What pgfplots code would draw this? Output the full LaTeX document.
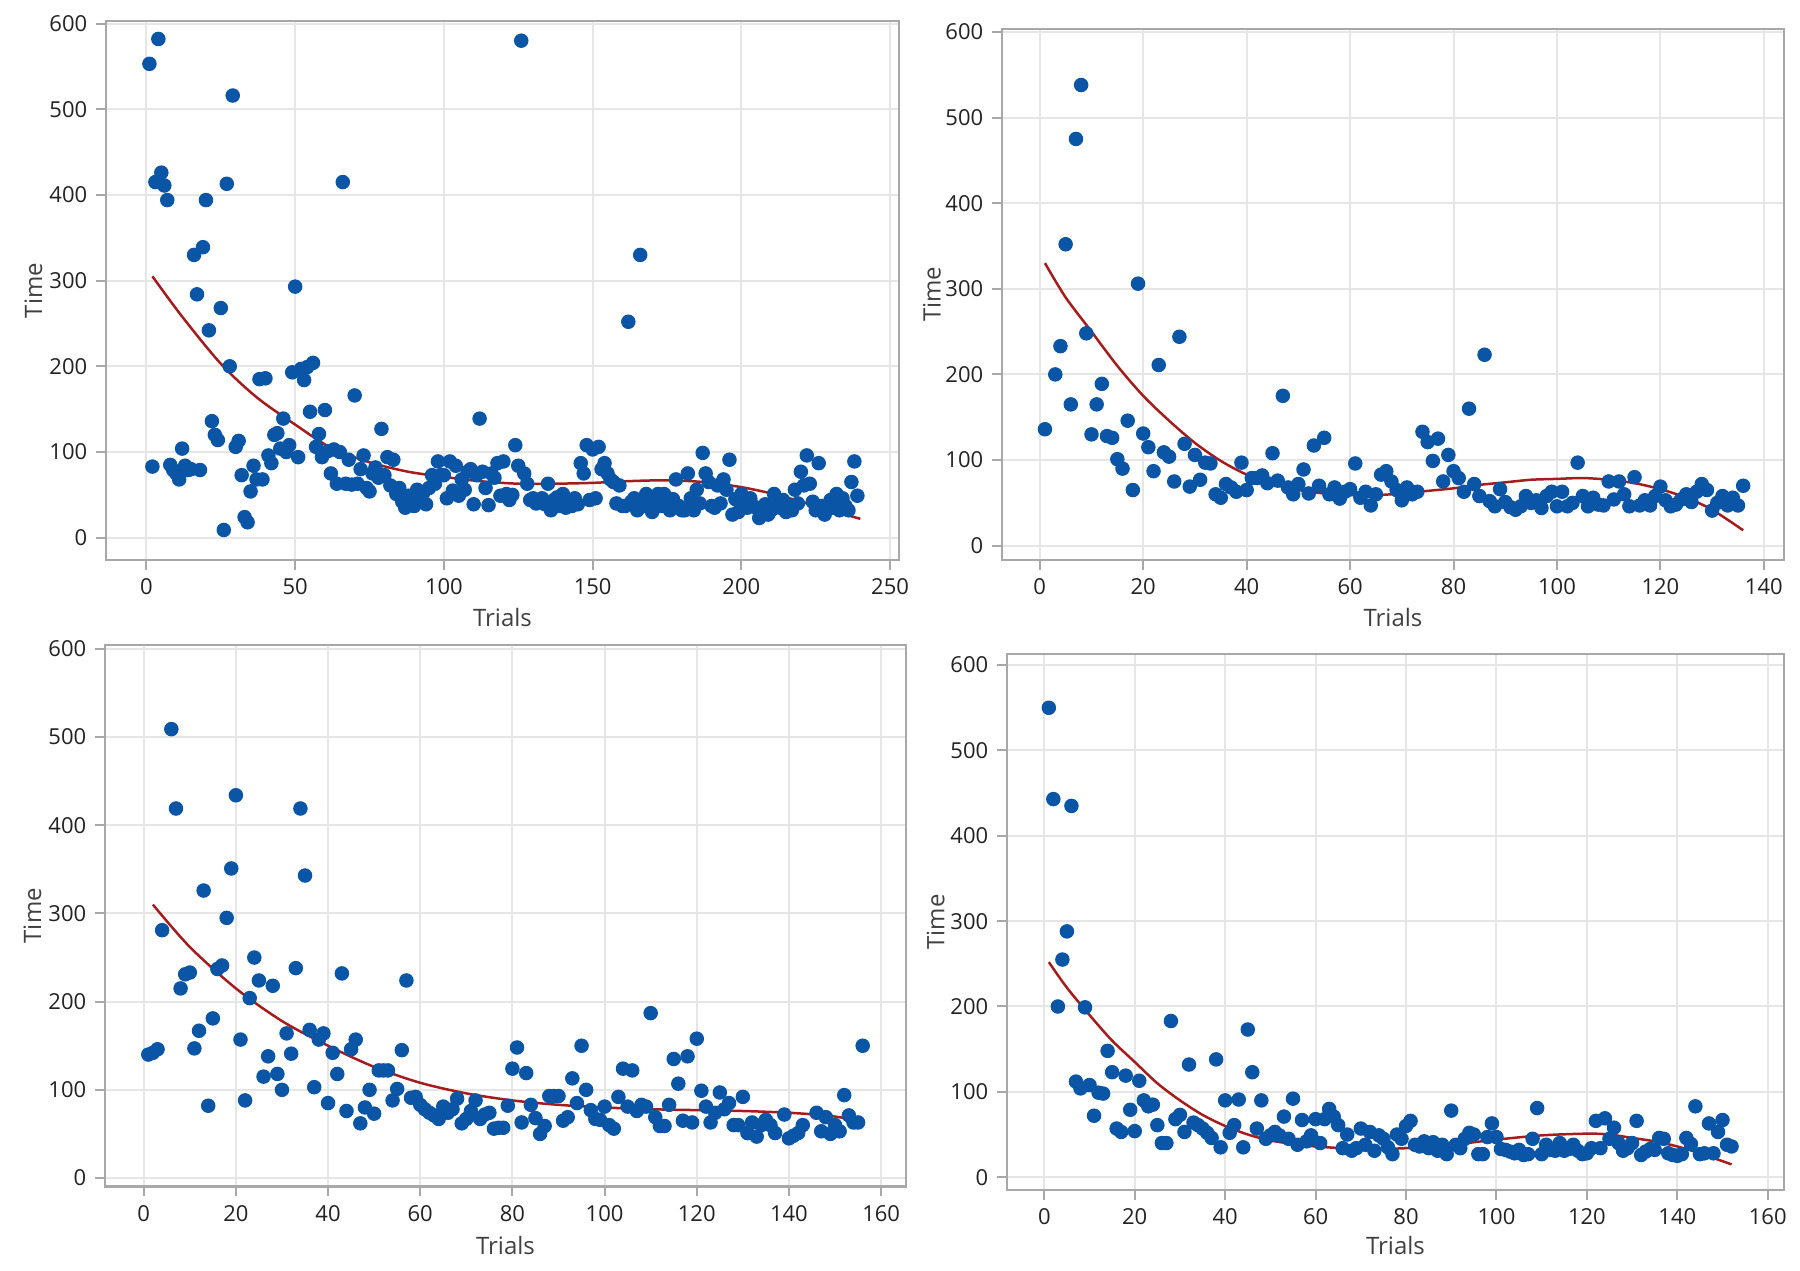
\documentclass[border=0pt]{standalone}
\usepackage{fontspec}
\setmainfont{Open Sans}
\usepackage{pgfplots}
\pgfplotsset{compat=1.18}
\usepackage{pgfplotstable}
\definecolor{mtblue}{HTML}{0A55A5}
\definecolor{mtred}{HTML}{A51C1C}
\definecolor{gridc}{HTML}{E6E6E6}
\definecolor{framec}{HTML}{A8A8A8}
\definecolor{txtc}{HTML}{222222}

\pgfplotstableread{
x y
1 553
2 83
3 415
4 582
5 426
6 411
7 394
8 85
9 79
10 75
11 68
12 104
13 84
14 79
15 80
16 330
17 284
18 79
19 339
20 394
21 242
22 136
23 120
24 114
25 268
26 9
27 413
28 200
29 516
30 106
31 113
32 73
33 24
34 18
35 54
36 84
37 68
38 185
39 68
40 186
41 96
42 87
43 120
44 122
45 104
46 139
47 100
48 108
49 193
50 293
51 94
52 197
53 184
54 199
55 147
56 204
57 106
58 121
59 94
60 149
61 101
62 75
63 103
64 63
65 100
66 415
67 63
68 91
69 62
70 166
71 63
72 80
73 96
74 58
75 54
76 75
77 82
78 70
79 127
80 73
81 94
82 61
83 91
84 51
85 58
86 42
87 35
88 49
89 44
90 37
91 56
92 46
93 52
94 39
95 58
96 73
97 63
98 89
99 73
100 73
101 46
102 89
103 55
104 84
105 49
106 68
107 56
108 77
109 80
110 39
111 73
112 139
113 77
114 58
115 38
116 75
117 70
118 87
119 49
120 89
121 51
122 44
123 50
124 108
125 84
126 580
127 75
128 63
129 44
130 46
131 40
132 42
133 46
134 39
135 63
136 32
137 44
138 47
139 37
140 51
141 35
142 44
143 37
144 46
145 39
146 87
147 75
148 108
149 44
150 103
151 46
152 106
153 80
154 87
155 75
156 68
157 65
158 40
159 61
160 37
161 37
162 252
163 42
164 46
165 32
166 330
167 37
168 51
169 40
170 30
171 42
172 51
173 37
174 51
175 44
176 32
177 45
178 68
179 37
180 32
181 32
182 75
183 46
184 32
185 56
186 40
187 99
188 75
189 65
190 37
191 35
192 61
193 40
194 68
195 56
196 91
197 27
198 45
199 30
200 51
201 42
202 35
203 46
204 37
205 35
206 23
207 30
208 39
209 27
210 32
211 51
212 38
213 35
214 44
215 30
216 37
217 32
218 56
219 40
220 77
221 61
222 96
223 63
224 42
225 32
226 87
227 37
228 27
229 35
230 44
231 35
232 51
233 32
234 46
235 37
236 32
237 65
238 89
239 49
}\dataA

\pgfplotstableread{
x y
1 136
3 200
4 233
5 352
6 165
7 475
8 538
9 248
10 130
11 165
12 189
13 128
14 126
15 101
16 90
17 146
18 65
19 306
20 131
21 115
22 87
23 211
24 109
25 104
26 75
27 244
28 119
29 69
30 106
31 77
32 97
33 96
34 60
35 56
36 72
37 68
38 63
39 97
40 65
41 79
42 79
43 82
44 73
45 108
46 76
47 175
48 68
49 60
50 72
51 89
52 61
53 117
54 70
55 126
56 60
57 68
58 55
59 63
60 66
61 96
62 56
63 63
64 47
65 60
66 83
67 87
68 75
69 65
70 53
71 68
72 60
73 63
74 133
75 121
76 99
77 125
78 75
79 106
80 87
81 79
82 63
83 160
84 72
85 58
86 223
87 52
88 46
89 66
90 51
91 45
92 42
93 46
94 58
95 50
96 53
97 44
98 58
99 63
100 46
101 63
102 46
103 50
104 97
105 58
106 46
107 56
108 48
109 47
110 75
111 54
112 75
113 60
114 46
115 80
116 47
117 53
118 47
119 58
120 69
121 53
122 46
123 48
124 54
125 60
126 51
127 63
128 72
129 65
130 41
131 50
132 58
133 47
134 56
135 47
136 70
}\dataB

\pgfplotstableread{
x y
1 140
2 142
3 146
4 281
6 509
7 419
8 215
9 231
10 233
11 147
12 167
13 326
14 82
15 181
16 237
17 241
18 295
19 351
20 434
21 157
22 88
23 204
24 250
25 224
26 115
27 138
28 218
29 118
30 100
31 164
32 141
33 238
34 419
35 343
36 168
37 103
38 157
39 164
40 85
41 142
42 118
43 232
44 76
45 146
46 157
47 62
48 80
49 100
50 73
51 122
52 122
53 122
54 88
55 101
56 145
57 224
58 91
59 92
60 83
61 78
62 74
63 71
64 67
65 81
66 74
67 78
68 90
69 62
70 67
71 76
72 88
73 67
74 72
75 74
76 56
77 57
78 57
79 82
80 124
81 148
82 63
83 119
84 83
85 68
86 50
87 59
88 93
89 93
90 93
91 65
92 69
93 113
94 85
95 150
96 100
97 77
98 67
99 66
100 81
101 60
102 56
103 92
104 124
105 81
106 122
107 76
108 83
109 81
110 187
111 69
112 59
113 59
114 83
115 135
116 107
117 65
118 138
119 63
120 158
121 99
122 81
123 63
124 74
125 97
126 78
127 85
128 60
129 60
130 92
131 51
132 63
133 47
134 60
135 66
136 60
137 51
139 72
140 45
141 48
142 51
143 60
146 74
147 53
148 69
149 50
150 60
151 53
152 94
153 71
154 63
155 63
156 150
}\dataC

\pgfplotstableread{
x y
1 550
2 443
3 200
4 255
5 288
6 435
7 112
8 104
9 199
10 108
11 72
12 99
13 98
14 148
15 123
16 57
17 53
18 119
19 79
20 54
21 113
22 90
23 83
24 85
25 61
26 40
27 40
28 183
29 68
30 73
31 53
32 132
33 64
34 61
35 57
36 52
37 46
38 138
39 35
40 90
41 52
42 61
43 91
44 35
45 173
46 123
47 57
48 90
49 45
50 49
51 53
52 49
53 71
54 45
55 92
56 38
57 67
58 42
59 49
60 68
61 40
62 68
63 80
64 71
65 61
66 34
67 50
68 31
69 34
70 57
71 38
72 53
73 31
74 49
75 45
76 35
77 27
78 50
79 45
80 60
81 66
82 38
83 36
84 42
85 34
86 41
87 31
88 38
89 27
90 78
91 38
92 34
93 45
94 52
95 50
96 27
97 27
98 47
99 63
100 47
101 33
102 32
103 30
104 28
105 32
106 26
107 27
108 45
109 81
110 27
111 38
112 32
113 31
114 40
115 31
116 33
117 38
118 31
119 27
120 28
121 34
122 66
123 34
124 69
125 45
126 58
127 40
128 31
129 34
130 40
131 66
132 26
133 30
134 33
135 32
136 46
137 45
138 28
139 26
140 25
141 27
142 46
143 39
144 83
145 27
146 28
147 63
148 28
149 53
150 67
151 38
152 36
}\dataD

\pgfplotsset{
  panel/.style={
    scale only axis,
    anchor=south west,
    axis line style={framec, line width=0.9pt},
    grid=major,
    major grid style={gridc, line width=0.8pt},
    tick style={framec, line width=0.8pt},
    tick align=outside,
    major tick length=4pt,
    xtick pos=bottom, ytick pos=left,
    ytick={0,100,...,600},
    /pgf/number format/assume math mode=true,
    tick label style={font=\fontsize{8.8}{10}\selectfont, text=txtc},
    label style={font=\fontsize{9.6}{11}\selectfont, text=black!75},
    xlabel={Trials}, ylabel={Time},
    ylabel style={at={(axis description cs:0,0.5)}, anchor=center},
    xlabel style={at={(axis description cs:0.5,0)}, anchor=center},
    clip=true,
  },
  dots/.style={only marks, mark=*, mark size=2.7pt, mark options={fill=mtblue, draw=mtblue}},
  fit/.style={mtred, line width=1.0pt, smooth, no marks},
}

\begin{document}
\begin{tikzpicture}
\useasboundingbox (0,0) rectangle (720pt,508.4pt);

% Top-left
\begin{axis}[panel, at={(42.4pt,284.4pt)}, width=317.2pt, height=215.6pt,
  xmin=-13.6, xmax=253, ymin=-26, ymax=603,
  xtick={0,50,...,250},
  ylabel style={yshift=29pt}, xlabel style={yshift=-23.2pt}]
\addplot[dots] table[x=x,y=y] {\dataA};
\addplot[fit] coordinates {(2,305) (12,258) (25,203) (37,164) (50,132) (62,105) (75,88) (88,77) (100,71) (112,66) (125,63) (137,63) (150,64) (162,66) (175,67) (187,65) (200,59) (212,50) (225,37) (240,22)};
\end{axis}

% Top-right
\begin{axis}[panel, at={(400.8pt,284.4pt)}, width=312.8pt, height=212.5pt,
  xmin=-7.3, xmax=143.9, ymin=-16.7, ymax=603.7,
  xtick={0,20,...,140},
  ylabel style={yshift=28pt}, xlabel style={yshift=-23.2pt}]
\addplot[dots] table[x=x,y=y] {\dataB};
\addplot[fit] coordinates {(1,330) (5,290) (10,250) (15,210) (20,175) (25,146) (30,120) (35,99) (40,83) (45,72) (50,65) (55,61) (60,59) (65,59) (70,61) (75,64) (80,67) (85,71) (90,74) (95,77) (100,78) (105,79) (110,77) (115,73) (120,66) (125,56) (130,42) (136,18)};
\end{axis}

% Bottom-left
\begin{axis}[panel, at={(42pt,33.8pt)}, width=320.4pt, height=216.6pt,
  xmin=-8.4, xmax=165.4, ymin=-9.6, ymax=604.4,
  xtick={0,20,...,160},
  ylabel style={yshift=29pt}, xlabel style={yshift=-23.6pt}]
\addplot[dots] table[x=x,y=y] {\dataC};
\addplot[fit] coordinates {(2,310) (10,262) (20,215) (30,178) (40,150) (50,126) (60,108) (70,96) (80,88) (90,83) (100,80) (110,78) (120,77) (130,76) (140,74) (148,71) (152,68)};
\end{axis}

% Bottom-right
\begin{axis}[panel, at={(402.8pt,32.4pt)}, width=310.8pt, height=214.4pt,
  xmin=-8.25, xmax=163.6, ymin=-15, ymax=613,
  xtick={0,20,...,160},
  ylabel style={yshift=28.5pt}, xlabel style={yshift=-22.2pt}]
\addplot[dots] table[x=x,y=y] {\dataD};
\addplot[fit] coordinates {(1,252) (5,222) (10,190) (15,160) (20,135) (25,110) (30,90) (35,73) (40,60) (45,50) (50,43) (55,39) (60,36) (70,33) (80,34) (90,38) (100,44) (110,49) (120,51) (125,50) (130,46) (135,42) (140,36) (145,28) (152,15)};
\end{axis}
\end{tikzpicture}
\end{document}
